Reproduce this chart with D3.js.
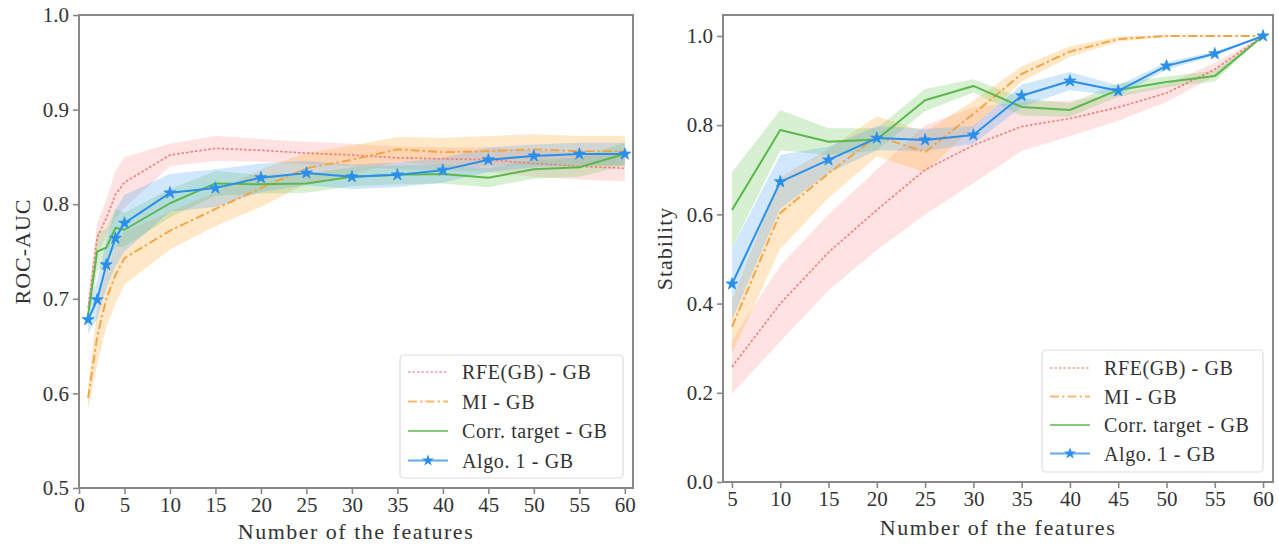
<!DOCTYPE html>
<html>
<head>
<meta charset="utf-8">
<script src="https://cdn.jsdelivr.net/npm/d3@7"></script>
<style>
  html, body { margin: 0; padding: 0; background: #fff; }
  svg { display: block; }
  text { font-family: "Liberation Serif", "DejaVu Serif", serif; fill: #333; }
</style>
</head>
<body>
<svg id="chart" width="1279" height="548"></svg>
<script>
// ---- Data: ROC-AUC vs. number of features (mean and std) ----
const aucFeatures = [1, 2, 3, 4, 5, 10, 15, 20, 25, 30, 35, 40, 45, 50, 55, 60];
const aucRfe      = [0.690, 0.765, 0.785, 0.810, 0.823, 0.852, 0.859, 0.857, 0.854, 0.852, 0.849, 0.848, 0.847, 0.843, 0.840, 0.838];
const aucRfeStd   = [0.010, 0.015, 0.020, 0.025, 0.027, 0.012, 0.013, 0.012, 0.012, 0.012, 0.012, 0.012, 0.013, 0.014, 0.014, 0.014];
const aucMi       = [0.595, 0.660, 0.700, 0.725, 0.743, 0.772, 0.795, 0.817, 0.838, 0.847, 0.858, 0.855, 0.856, 0.858, 0.856, 0.856];
const aucMiStd    = [0.012, 0.030, 0.030, 0.030, 0.028, 0.020, 0.018, 0.020, 0.016, 0.015, 0.013, 0.015, 0.016, 0.016, 0.016, 0.016];
const aucCorr     = [0.683, 0.750, 0.754, 0.775, 0.773, 0.801, 0.822, 0.821, 0.822, 0.829, 0.831, 0.832, 0.828, 0.837, 0.839, 0.853];
const aucCorrStd  = [0.010, 0.020, 0.020, 0.020, 0.018, 0.015, 0.013, 0.010, 0.010, 0.010, 0.010, 0.010, 0.010, 0.010, 0.010, 0.012];
const aucAlgo     = [0.678, 0.699, 0.736, 0.764, 0.780, 0.812, 0.817, 0.828, 0.833, 0.829, 0.831, 0.836, 0.847, 0.851, 0.853, 0.853];
const aucAlgoStd  = [0.015, 0.020, 0.025, 0.030, 0.030, 0.020, 0.020, 0.015, 0.013, 0.013, 0.013, 0.013, 0.013, 0.012, 0.012, 0.012];
const aucTicksX   = [0, 5, 10, 15, 20, 25, 30, 35, 40, 45, 50, 55, 60];
const aucTicksY   = [0.5, 0.6, 0.7, 0.8, 0.9, 1.0];

// ---- Data: selection stability vs. number of features (mean and std) ----
const stabFeatures = [5, 10, 15, 20, 25, 30, 35, 40, 45, 50, 55, 60];
const stabRfe      = [0.258, 0.400, 0.515, 0.610, 0.700, 0.755, 0.797, 0.815, 0.840, 0.872, 0.925, 1.000];
const stabRfeStd   = [0.060, 0.085, 0.085, 0.090, 0.100, 0.085, 0.055, 0.040, 0.030, 0.020, 0.015, 0.000];
const stabMi       = [0.348, 0.603, 0.692, 0.775, 0.740, 0.825, 0.915, 0.965, 0.993, 1.000, 1.000, 1.000];
const stabMiStd    = [0.060, 0.080, 0.055, 0.045, 0.045, 0.030, 0.017, 0.012, 0.006, 0.002, 0.001, 0.000];
const stabCorr     = [0.610, 0.789, 0.763, 0.768, 0.856, 0.888, 0.841, 0.834, 0.879, 0.897, 0.910, 1.000];
const stabCorrStd  = [0.085, 0.045, 0.030, 0.025, 0.025, 0.015, 0.020, 0.015, 0.015, 0.012, 0.012, 0.000];
const stabAlgo     = [0.444, 0.673, 0.722, 0.771, 0.767, 0.778, 0.866, 0.899, 0.877, 0.933, 0.960, 1.000];
const stabAlgoStd  = [0.080, 0.060, 0.030, 0.027, 0.025, 0.020, 0.025, 0.020, 0.012, 0.008, 0.005, 0.000];
const stabTicksX   = [5, 10, 15, 20, 25, 30, 35, 40, 45, 50, 55, 60];
const stabTicksY   = [0.0, 0.2, 0.4, 0.6, 0.8, 1.0];

const seriesNames = ["RFE(GB) - GB", "MI - GB", "Corr. target - GB", "Algo. 1 - GB"];

// Visual style of each method
const styles = [
  { line: "#f47a7a", band: "#ff8a8a", bandOpacity: 0.25, width: 1.6, dash: "2.5,2", marker: false },
  { line: "#f4a340", band: "#ffb347", bandOpacity: 0.30, width: 1.9, dash: "9,3,2.5,3", marker: false },
  { line: "#5cb84e", band: "#7ccd6a", bandOpacity: 0.30, width: 2.0, dash: null, marker: false },
  { line: "#2b8fea", band: "#56a8f5", bandOpacity: 0.28, width: 2.0, dash: null, marker: true }
];
const markerSize = 45;

const svg = d3.select("#chart");
const frameColor = "#888";

function drawPanel(cfg) {
  const g = svg.append("g");
  const x = d3.scaleLinear().domain(cfg.xDomain).range([cfg.left, cfg.right]);
  const y = d3.scaleLinear().domain(cfg.yDomain).range([cfg.bottom, cfg.top]);

  // Shaded mean ± std bands, then the mean curves on top
  cfg.series.forEach((s, i) => {
    const st = styles[i];
    const pts = cfg.xs.map((xv, k) => ({ x: xv, m: s.mean[k], sd: s.std[k] }));
    const area = d3.area().x(d => x(d.x)).y0(d => y(d.m - d.sd)).y1(d => y(d.m + d.sd));
    g.append("path").attr("d", area(pts))
      .attr("fill", st.band).attr("fill-opacity", st.bandOpacity).attr("stroke", "none");
  });
  cfg.series.forEach((s, i) => {
    const st = styles[i];
    const pts = cfg.xs.map((xv, k) => ({ x: xv, m: s.mean[k] }));
    const line = d3.line().x(d => x(d.x)).y(d => y(d.m));
    g.append("path").attr("d", line(pts))
      .attr("fill", "none").attr("stroke", st.line).attr("stroke-width", st.width)
      .attr("stroke-dasharray", st.dash).attr("stroke-linejoin", "round");
    if (st.marker) {
      g.selectAll(null).data(pts).enter().append("path")
        .attr("d", d3.symbol(d3.symbolStar, markerSize)())
        .attr("transform", d => `translate(${x(d.x)},${y(d.m)})`)
        .attr("fill", st.line).attr("stroke", st.line).attr("stroke-width", 0.8);
    }
  });

  // Frame
  g.append("rect").attr("x", cfg.left).attr("y", cfg.top)
    .attr("width", cfg.right - cfg.left).attr("height", cfg.bottom - cfg.top)
    .attr("fill", "none").attr("stroke", frameColor).attr("stroke-width", 2);

  // Axes
  const xAxis = d3.axisBottom(x).tickValues(cfg.xTicks).tickFormat(d3.format("d"))
    .tickSize(5).tickPadding(3);
  const yAxis = d3.axisLeft(y).tickValues(cfg.yTicks).tickFormat(d3.format(".1f"))
    .tickSize(5).tickPadding(4);
  const gx = g.append("g").attr("transform", `translate(0,${cfg.bottom + 1})`).call(xAxis);
  const gy = g.append("g").attr("transform", `translate(${cfg.left - 1},0)`).call(yAxis);
  [gx, gy].forEach(a => {
    a.select(".domain").remove();
    a.selectAll(".tick line").attr("stroke", frameColor).attr("stroke-width", 1.6);
    a.selectAll(".tick text").attr("font-size", 21).attr("fill", "#333")
      .style("font-family", "'Liberation Serif', serif");
  });

  // Axis titles
  g.append("text").attr("x", (cfg.left + cfg.right) / 2).attr("y", cfg.xLabelY)
    .attr("text-anchor", "middle").attr("font-size", 22).attr("letter-spacing", 1.5)
    .text("Number of the features");
  g.append("text")
    .attr("transform", `translate(${cfg.yLabelX},${(cfg.top + cfg.bottom) / 2}) rotate(-90)`)
    .attr("text-anchor", "middle").attr("font-size", 22).attr("letter-spacing", 1)
    .text(cfg.yLabel);

  // Legend
  const L = cfg.legend;
  g.append("rect").attr("x", L.x).attr("y", L.y).attr("width", L.w).attr("height", L.h)
    .attr("rx", 4).attr("fill", "#fff").attr("fill-opacity", 0.85)
    .attr("stroke", "#ddd").attr("stroke-width", 1.2);
  seriesNames.forEach((name, i) => {
    const st = styles[i];
    const ry = L.y + L.row0 + i * L.step;
    g.append("line").attr("x1", L.x + 8).attr("x2", L.x + 48).attr("y1", ry).attr("y2", ry)
      .attr("stroke", st.line).attr("stroke-width", st.width).attr("stroke-dasharray", st.dash)
      .attr("stroke-opacity", 0.75);
    if (st.marker) {
      g.append("path").attr("d", d3.symbol(d3.symbolStar, markerSize)())
        .attr("transform", `translate(${L.x + 28},${ry})`).attr("fill", st.line);
    }
    g.append("text").attr("x", L.x + 62).attr("y", ry + 7).attr("font-size", 20)
      .attr("letter-spacing", 0.6).text(name);
  });
}

drawPanel({
  left: 79, right: 633, top: 15, bottom: 488,
  xDomain: [0, 60.9], yDomain: [0.5, 1.0],
  xs: aucFeatures,
  series: [
    { mean: aucRfe, std: aucRfeStd },
    { mean: aucMi, std: aucMiStd },
    { mean: aucCorr, std: aucCorrStd },
    { mean: aucAlgo, std: aucAlgoStd }
  ],
  xTicks: aucTicksX, yTicks: aucTicksY,
  yLabel: "ROC-AUC", yLabelX: 30, xLabelY: 539,
  legend: { x: 400, y: 355, w: 223, h: 123, row0: 17, step: 29.5 }
});

drawPanel({
  left: 723, right: 1273, top: 15, bottom: 482,
  xDomain: [4.07, 61.03], yDomain: [0, 1.047],
  xs: stabFeatures,
  series: [
    { mean: stabRfe, std: stabRfeStd },
    { mean: stabMi, std: stabMiStd },
    { mean: stabCorr, std: stabCorrStd },
    { mean: stabAlgo, std: stabAlgoStd }
  ],
  xTicks: stabTicksX, yTicks: stabTicksY,
  yLabel: "Stability", yLabelX: 672, xLabelY: 535,
  legend: { x: 1042, y: 350, w: 221, h: 122, row0: 18, step: 28.5 }
});
</script>
</body>
</html>
